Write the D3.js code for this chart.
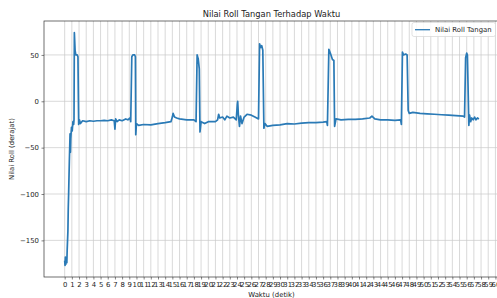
<!DOCTYPE html>
<html>
<head>
<meta charset="utf-8">
<script src="https://cdn.jsdelivr.net/npm/d3@7"></script>
<style>
  body { margin: 0; background: #fff; }
  svg { display: block; font-family: "DejaVu Sans", sans-serif; }
</style>
</head>
<body>
<div id="chart-area"></div>
<script>
// data
const times = [0, 0.05, 0.1, 0.15, 0.2, 0.3, 0.35, 0.45, 0.5, 0.55, 0.6, 0.65, 0.7, 0.75, 0.8, 0.85, 0.95, 1.05, 1.15, 1.25,
  1.3, 1.35, 1.45, 1.55, 1.75, 1.85, 1.95, 2.05, 2.2, 2.5, 3, 3.5, 4, 4.5, 5, 5.5, 6, 6.5, 6.9, 7.0,
  7.1, 7.3, 7.6, 8, 8.5, 8.8, 9.1, 9.2, 9.35, 9.5, 9.75, 9.85, 9.9, 10.0, 10.3, 11, 12, 13, 14, 14.8,
  15.0, 15.1, 15.3, 15.6, 16, 17, 18, 18.3, 18.45, 18.6, 18.75, 18.85, 19.0, 19.5, 20, 21, 21.3, 21.45, 21.6, 22,
  22.3, 22.6, 23, 23.5, 23.9, 24.05, 24.1, 24.2, 24.35, 24.5, 24.7, 25, 25.4, 26, 26.5, 27.0, 27.15, 27.3, 27.45, 27.6,
  27.75, 27.9, 28.2, 29, 30, 31, 32, 33, 34, 35, 36, 36.5, 36.6, 36.8, 37.0, 37.3, 37.5, 37.6, 37.8, 38.5,
  39.5, 40.5, 41.5, 42.5, 42.8, 43.2, 44, 45, 46, 46.8, 46.9, 47.05, 47.2, 47.5, 47.7, 47.85, 48.0, 48.5, 49.5, 50.5,
  51.5, 52.5, 53.5, 54.5, 55.5, 55.7, 55.85, 56.0, 56.1, 56.3, 56.4, 56.55, 56.7, 56.9, 57.1, 57.3, 57.5, 57.7]

const roll = [-172, -177, -168, -176, -170, -174, -160, -140, -115, -100, -82, -65, -50, -35, -55, -40, -28, -32, -22, -25,
  -20, 74, 55, 50, 50, 48, -25, -20, -24, -21, -22, -21, -21.5, -21, -21, -20.5, -21, -20, -21, -30,
  -19, -22, -20, -21, -19, -20, -18, -22, 48, 50, 50, 48, -36, -24, -26, -25, -25.5, -24, -23, -22,
  -17, -13, -17, -18, -19, -20, -20, -22, 50, 46, 35, -33, -22, -24, -22, -22, -20, -14, -18, -17,
  -20, -16, -18, -17, -20, -3, 0, -15, -27, -16, -24, -17, -14, -15, -17, -19, 62, 58, 60, 55,
  -29, -24, -27, -26, -25.5, -24, -24.5, -23.5, -23, -23, -22.5, -22, -26, 56, 52, 45, 44, -27, -19, -20,
  -19.5, -19.5, -19, -18, -16, -19, -20, -20, -20.5, -20, -25, 53, 50, 51, 50, -10, -13, -12, -13, -13.5,
  -14, -14.5, -15, -15.5, -16, -17, 47, 52, 50, -26, -15, -22, -18, -20, -17, -20, -18, -19]

const yTicks = [-150, -100, -50, 0, 50]
const xTicks = d3.range(0, 61)

const W = 497
const H = 298
const plot = { left: 44, right: 499, top: 21, bottom: 277 }

let svg = d3.select('#chart-area')
  .append('svg')
  .attr('width', W)
  .attr('height', H)

let xScale = d3.scaleLinear()
  .domain([-2.88, 60.5])
  .range([plot.left, plot.right])

let yScale = d3.scaleLinear()
  .domain([-189.5, 86.6])
  .range([plot.bottom, plot.top])

// grid
svg.append('g')
  .selectAll('line')
  .data(xTicks)
  .join('line')
  .attr('x1', d => xScale(d)).attr('x2', d => xScale(d))
  .attr('y1', plot.top).attr('y2', plot.bottom)
  .attr('stroke', '#c8c8c8')
  .attr('stroke-width', 0.7)

svg.append('g')
  .selectAll('line')
  .data(yTicks)
  .join('line')
  .attr('x1', plot.left).attr('x2', plot.right)
  .attr('y1', d => yScale(d)).attr('y2', d => yScale(d))
  .attr('stroke', '#c8c8c8')
  .attr('stroke-width', 0.7)

// axes
let xAxis = d3.axisBottom(xScale)
  .tickValues(xTicks)
  .tickSize(2.5)
  .tickPadding(2.5)
  .tickFormat(d3.format('d'))

svg.append('g')
  .attr('transform', 'translate(0,' + plot.bottom + ')')
  .call(xAxis)
  .call(g => g.select('.domain').remove())
  .call(g => g.selectAll('text').attr('font-size', 6.9).attr('fill', '#222').attr('font-family', 'DejaVu Sans'))
  .call(g => g.selectAll('line').attr('stroke', '#333').attr('stroke-width', 0.6))

let yAxis = d3.axisLeft(yScale)
  .tickValues(yTicks)
  .tickSize(2.5)
  .tickPadding(2.5)
  .tickFormat(d => d < 0 ? '\u2212' + Math.abs(d) : d)

svg.append('g')
  .attr('transform', 'translate(' + plot.left + ',0)')
  .call(yAxis)
  .call(g => g.select('.domain').remove())
  .call(g => g.selectAll('text').attr('font-size', 6.9).attr('fill', '#222').attr('font-family', 'DejaVu Sans'))
  .call(g => g.selectAll('line').attr('stroke', '#333').attr('stroke-width', 0.6))

// spines
svg.append('rect')
  .attr('x', plot.left).attr('y', plot.top)
  .attr('width', plot.right - plot.left).attr('height', plot.bottom - plot.top)
  .attr('fill', 'none')
  .attr('stroke', '#333')
  .attr('stroke-width', 0.7)

// the line
let line = d3.line()
  .x((d, i) => xScale(times[i]))
  .y(d => yScale(d))

svg.append('path')
  .datum(roll)
  .attr('d', line)
  .attr('fill', 'none')
  .attr('stroke', '#2a7ab6')
  .attr('stroke-width', 1.7)
  .attr('stroke-linejoin', 'round')

// title + labels
svg.append('text')
  .attr('x', (plot.left + plot.right) / 2).attr('y', 17)
  .attr('text-anchor', 'middle')
  .attr('font-size', 8.3)
  .attr('fill', '#222')
  .text('Nilai Roll Tangan Terhadap Waktu')

svg.append('text')
  .attr('x', (plot.left + plot.right) / 2).attr('y', 297)
  .attr('text-anchor', 'middle')
  .attr('font-size', 6.9)
  .attr('fill', '#222')
  .text('Waktu (detik)')

svg.append('text')
  .attr('transform', 'translate(14,' + (plot.top + plot.bottom) / 2 + ') rotate(-90)')
  .attr('text-anchor', 'middle')
  .attr('font-size', 6.9)
  .attr('fill', '#222')
  .text('Nilai Roll (derajat)')

// legend
svg.append('rect')
  .attr('x', 412).attr('y', 22.5)
  .attr('width', 83.5).attr('height', 14)
  .attr('rx', 2)
  .attr('fill', 'rgba(255,255,255,0.85)')
  .attr('stroke', '#d6d6d6')
  .attr('stroke-width', 0.7)

svg.append('line')
  .attr('x1', 415).attr('x2', 430)
  .attr('y1', 29.7).attr('y2', 29.7)
  .attr('stroke', '#2a7ab6')
  .attr('stroke-width', 1.3)

svg.append('text')
  .attr('x', 435).attr('y', 32.2)
  .attr('font-size', 6.9)
  .attr('fill', '#222')
  .text('Nilai Roll Tangan')
</script>
</body>
</html>
